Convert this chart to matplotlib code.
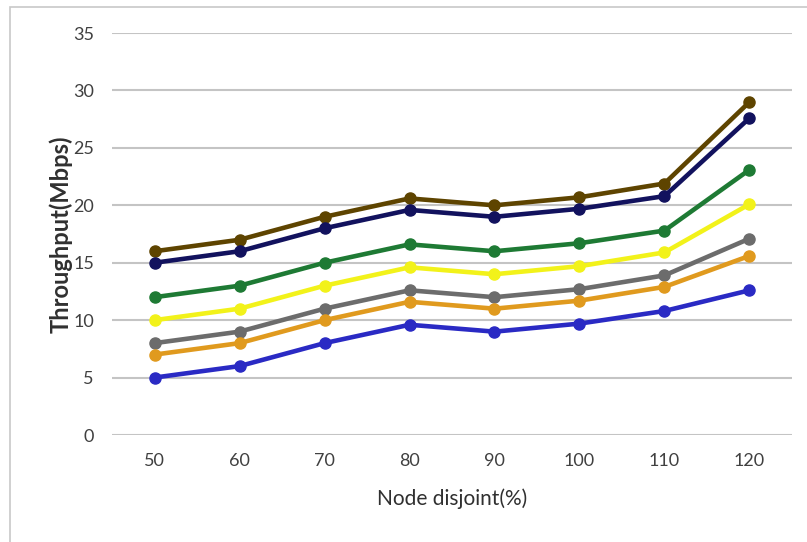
import matplotlib.pyplot as plt
from matplotlib.patches import Rectangle

# data
node_disjoint = [50, 60, 70, 80, 90, 100, 110, 120]
s_brown = [16, 17, 19, 20.6, 20, 20.7, 21.9, 29]
s_navy = [15, 16, 18, 19.6, 19, 19.7, 20.8, 27.6]
s_green = [12, 13, 15, 16.6, 16, 16.7, 17.8, 23.1]
s_yellow = [10, 11, 13, 14.6, 14, 14.7, 15.9, 20.1]
s_gray = [8, 9, 11, 12.6, 12, 12.7, 13.9, 17.1]
s_orange = [7, 8, 10, 11.6, 11, 11.7, 12.9, 15.6]
s_blue = [5, 6, 8, 9.6, 9, 9.7, 10.8, 12.6]

series = [s_brown, s_navy, s_green, s_yellow, s_gray, s_orange, s_blue]
colors = ['#5e4400', '#12125e', '#1e7a34', '#f2f21a', '#6c6c6c', '#e09a1e', '#2a2ac4']

plt.rcParams['font.family'] = ['Lato', 'DejaVu Sans']

fig = plt.figure(figsize=(8.07, 5.42), dpi=100)
ax = fig.add_axes([0.1388, 0.1974, 0.8426, 0.7416])

for vals, c in zip(series, colors):
    ax.plot(node_disjoint, vals, color=c, lw=3.3, marker='o', ms=8, solid_capstyle='round')

ax.set_xlim(45, 125)
ax.set_ylim(0, 35)
ax.set_xticks(node_disjoint)
ax.set_yticks(range(0, 36, 5))
ax.grid(axis='y', color='#c4c4c4', lw=1.5)
ax.set_axisbelow(True)
for sp in ax.spines.values():
    sp.set_visible(False)
ax.tick_params(length=0, labelsize=13, colors='#404040', pad=13)
ax.tick_params(axis='y', pad=13)

ax.set_ylabel('Throughput(Mbps)', fontsize=17, fontweight='bold', color='#303030', labelpad=0)
ax.set_xlabel('Node disjoint(%)', fontsize=15, color='#303030', labelpad=14)

# light frame around the whole chart
fig.patches.append(Rectangle((0.012, -0.01), 1.0, 0.998, transform=fig.transFigure,
                             fill=False, edgecolor='#c8c8c8', lw=1.2))

fig.savefig('out.png', dpi=100)
